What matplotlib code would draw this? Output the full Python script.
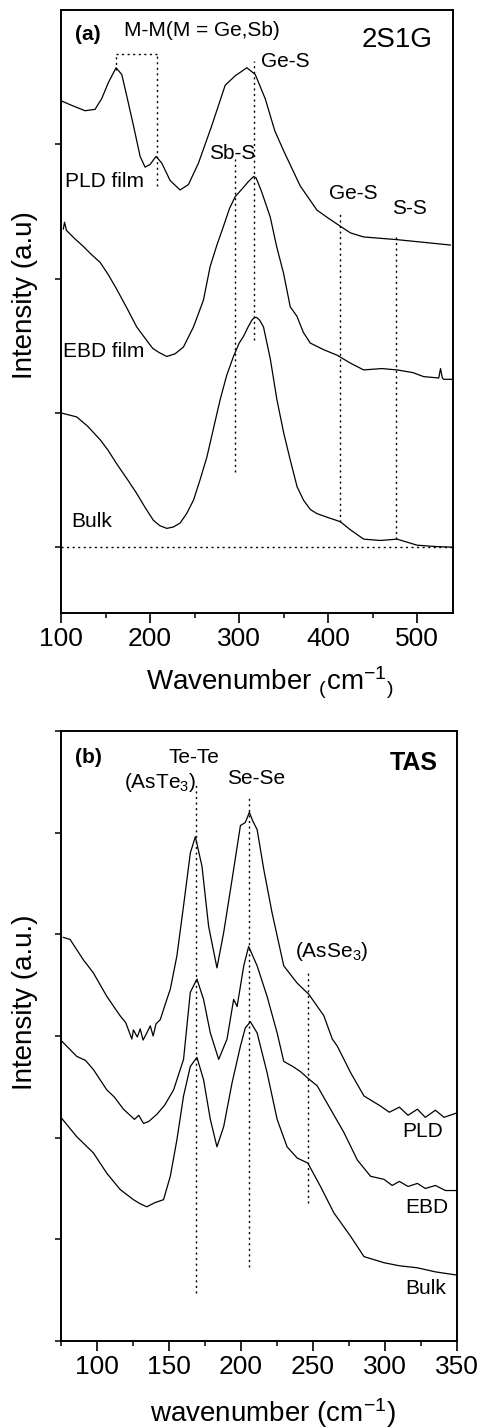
import matplotlib
matplotlib.use("Agg")
import matplotlib.pyplot as plt
from matplotlib.ticker import MultipleLocator

plt.rcParams['font.family'] = ['Liberation Sans', 'DejaVu Sans']
plt.rcParams['mathtext.default'] = 'regular'

# ---------------- Panel (a): 2S1G ----------------
a_pld_x = [101.5, 112, 127, 138.2, 145.7, 153.2, 161.8, 168.2, 173.8, 181.3, 188.8, 194.4,
           200, 206.7, 213.1, 222.5, 233.7, 243, 254.3, 269.3, 284.3, 295.5, 308.6, 318,
           329.2, 340, 350, 368.5, 387.3, 400, 413.5, 425, 439.7, 477.2, 537]
a_pld_y = [3.32, 3.29, 3.25, 3.26, 3.34, 3.46, 3.57, 3.52, 3.36, 3.14, 2.91, 2.83,
           2.85, 2.91, 2.86, 2.73, 2.66, 2.70, 2.86, 3.14, 3.44, 3.51, 3.57, 3.52,
           3.34, 3.10, 2.95, 2.69, 2.51, 2.45, 2.39, 2.34, 2.31, 2.29, 2.25]

a_ebd_x = [102.6, 104, 106, 115, 125, 134, 144, 153, 162.6, 174, 185, 195, 203, 210,
           218.7, 228, 237.4, 248.7, 259.9, 267.4, 275, 282.4, 289, 295.5, 304.9, 310,
           316.1, 319, 325, 334.8, 342, 349.8, 357.3, 364.8, 372, 379.8, 395, 409.8,
           425, 439.7, 460, 477.2, 495, 507.1, 524, 526, 528, 529.6, 540.4]
a_ebd_y = [2.37, 2.42, 2.36, 2.30, 2.24, 2.18, 2.12, 2.03, 1.92, 1.78, 1.64, 1.55, 1.48,
           1.45, 1.42, 1.44, 1.49, 1.64, 1.84, 2.09, 2.25, 2.39, 2.52, 2.61, 2.68, 2.72,
           2.76, 2.75, 2.65, 2.46, 2.24, 2.04, 1.79, 1.72, 1.60, 1.52, 1.47, 1.43,
           1.37, 1.32, 1.33, 1.32, 1.30, 1.27, 1.26, 1.33, 1.26, 1.25, 1.25]

a_bulk_x = [100, 117.6, 130, 144, 153, 162.6, 174, 185, 194, 203.7, 211, 218.7, 226, 233.7,
            241, 248.7, 256, 263.7, 271, 278.7, 286, 293.6, 300, 304.9, 310, 314.2, 317,
            319.8, 323, 327.3, 335, 342.3, 350, 357.3, 365, 372.2, 380, 387.3, 400, 413.5,
            424.7, 439.7, 458.4, 477.2, 499.7, 520, 540]
a_bulk_y = [1.0, 0.97, 0.90, 0.80, 0.72, 0.62, 0.51, 0.40, 0.30, 0.20, 0.16, 0.14, 0.15,
            0.18, 0.25, 0.35, 0.50, 0.67, 0.88, 1.10, 1.28, 1.42, 1.52, 1.57, 1.64, 1.69,
            1.71, 1.71, 1.69, 1.64, 1.40, 1.10, 0.85, 0.65, 0.45, 0.35, 0.28, 0.25, 0.22,
            0.19, 0.13, 0.06, 0.05, 0.06, 0.015, 0.005, 0.0]

# guide lines (x, y_top, y_bottom)
a_vlines_x = [161.4, 208.2, 316.9, 295.5, 412.7, 476.0]
a_vlines_top = [3.67, 3.67, 3.62, 2.89, 2.49, 2.31]
a_vlines_bot = [3.55, 2.69, 1.54, 0.56, 0.19, 0.06]

# ---------------- Panel (b): TAS ----------------
b_pld_x = [76.6, 81.3, 90.5, 97.5, 106.8, 116, 120, 124.2, 125.3, 128, 130, 132, 134.6,
           137, 139, 141, 143.9, 148.5, 150.9, 155.5, 160.1, 164.8, 168.3, 172.9, 177.5,
           183.3, 188, 193.8, 199.6, 203, 205.8, 208, 211.2, 215.8, 221.6, 229.7, 239,
           247.1, 257.5, 263.4, 266.9, 276.1, 285.4, 297, 303, 310, 316, 322.5, 328, 335,
           341, 349.2]
b_pld_y = [3.97, 3.95, 3.75, 3.62, 3.39, 3.20, 3.13, 2.97, 3.06, 2.99, 3.07, 2.96, 3.03,
           3.10, 3.00, 3.12, 3.16, 3.36, 3.46, 3.79, 4.28, 4.80, 4.96, 4.67, 4.08,
           3.67, 4.02, 4.54, 5.07, 5.10, 5.20, 5.12, 5.03, 4.64, 4.21, 3.69, 3.52,
           3.41, 3.20, 2.97, 2.90, 2.64, 2.41, 2.31, 2.25, 2.30, 2.22, 2.28, 2.20, 2.27,
           2.20, 2.24]

b_ebd_x = [75.5, 85.9, 92, 97.5, 106.8, 112, 118.4, 126, 129, 132.3, 136, 141.6, 147,
           153.2, 160.1, 164.8, 169.4, 174, 178.7, 184.5, 190.3, 194.9, 197.3, 201.9,
           205.3, 211.2, 218.1, 225.1, 229.7, 236, 241.3, 246, 252.9, 262.2, 271.5, 280.8,
           290, 299.3, 305, 310, 316, 322.5, 328, 335, 342, 349.2]
b_ebd_y = [2.95, 2.80, 2.76, 2.67, 2.47, 2.40, 2.28, 2.18, 2.22, 2.14, 2.16, 2.23, 2.32,
           2.47, 2.77, 3.43, 3.56, 3.36, 3.03, 2.77, 2.97, 3.36, 3.29, 3.69,
           3.88, 3.69, 3.39, 3.03, 2.75, 2.70, 2.65, 2.59, 2.51, 2.28, 2.05, 1.78,
           1.62, 1.59, 1.53, 1.57, 1.52, 1.55, 1.50, 1.53, 1.48, 1.48]

b_bulk_x = [75.5, 85.9, 97.5, 106.8, 116.1, 125.3, 130, 134.6, 140, 146.2, 150.9, 155.5,
            160.1, 164.8, 169.4, 174, 178.7, 183.3, 188, 193.8, 199.6, 203, 206.5, 211.2,
            218.1, 225.1, 232, 239, 246.4, 255.2, 264.5, 276.1, 285.4, 299.3, 310, 322.5,
            335, 349.2]
b_bulk_y = [2.19, 2.01, 1.85, 1.65, 1.49, 1.39, 1.35, 1.32, 1.36, 1.39, 1.62, 1.98,
            2.41, 2.70, 2.79, 2.57, 2.18, 1.91, 2.11, 2.54, 2.90, 3.08, 3.14, 3.03,
            2.64, 2.18, 1.91, 1.80, 1.75, 1.52, 1.26, 1.03, 0.83, 0.77, 0.74, 0.72,
            0.68, 0.65]

b_vlines_x = [168.7, 205.8, 246.4]
b_vlines_top = [5.50, 5.36, 3.63]
b_vlines_bot = [0.47, 0.73, 1.36]

a_xticks = [100, 200, 300, 400, 500]
b_xticks = [100, 150, 200, 250, 300, 350]

W, H = 483, 1428
fig = plt.figure(figsize=(W / 100, H / 100), dpi=100)

def px_axes(l, t, r, b):
    return fig.add_axes([l / W, 1 - b / H, (r - l) / W, (b - t) / H])

axa = px_axes(61, 10, 453, 613)
axb = px_axes(61, 731, 457, 1341)

lw_curve = 0.9
dot = (0, (1.5, 2.5))
for ax in (axa, axb):
    for s in ax.spines.values():
        s.set_linewidth(1.4)
    ax.tick_params(axis='x', which='major', direction='out', length=7, width=1.2,
                   labelsize=19, pad=3)
    ax.tick_params(axis='x', which='minor', direction='out', length=3.5, width=1.1)
    ax.tick_params(axis='y', which='major', direction='out', length=4.5, width=1.1,
                   labelleft=False)

# panel a
axa.plot(a_pld_x, a_pld_y, color='black', lw=lw_curve)
axa.plot(a_ebd_x, a_ebd_y, color='black', lw=lw_curve)
axa.plot(a_bulk_x, a_bulk_y, color='black', lw=lw_curve)
for x, yt, yb in zip(a_vlines_x, a_vlines_top, a_vlines_bot):
    axa.plot([x, x], [yb, yt], color='black', lw=1.0, ls=dot)
axa.plot([a_vlines_x[0], a_vlines_x[1]], [a_vlines_top[0], a_vlines_top[1]],
         color='black', lw=1.0, ls=dot)
axa.axhline(0, color='black', lw=1.0, ls=dot)
axa.set_xlim(100, 540)
axa.set_ylim(-0.49, 4.0)
axa.set_xticks(a_xticks)
axa.xaxis.set_minor_locator(MultipleLocator(50))
axa.set_yticks([0, 1, 2, 3])

fs = 15
axa.text(115.7, 3.82, '(a)', fontsize=15, fontweight='bold', va='center')
axa.text(170.8, 3.85, 'M-M(M = Ge,Sb)', fontsize=fs, va='center')
axa.text(437, 3.78, '2S1G', fontsize=20, va='center')
axa.text(324.7, 3.62, 'Ge-S', fontsize=fs, va='center')
axa.text(266.3, 2.93, 'Sb-S', fontsize=fs, va='center')
axa.text(104.5, 2.72, 'PLD film', fontsize=fs, va='center')
axa.text(401, 2.63, 'Ge-S', fontsize=fs, va='center')
axa.text(471.6, 2.52, 'S-S', fontsize=fs, va='center')
axa.text(102.2, 1.46, 'EBD film', fontsize=fs, va='center')
axa.text(111.2, 0.19, 'Bulk', fontsize=fs, va='center')

fig.text(25 / W, 1 - 295 / H, 'Intensity (a.u)', rotation=90, fontsize=20,
         ha='center', va='center')
fig.text(270 / W, 1 - 683 / H, r'Wavenumber $_{(}$cm$^{-1}$$_{)}$', fontsize=20,
         ha='center', va='center')

# panel b
axb.plot(b_pld_x, b_pld_y, color='black', lw=lw_curve)
axb.plot(b_ebd_x, b_ebd_y, color='black', lw=lw_curve)
axb.plot(b_bulk_x, b_bulk_y, color='black', lw=lw_curve)
for x, yt, yb in zip(b_vlines_x, b_vlines_top, b_vlines_bot):
    axb.plot([x, x], [yb, yt], color='black', lw=1.0, ls=dot)
axb.set_xlim(75, 350)
axb.set_ylim(0, 6)
axb.set_xticks(b_xticks)
axb.xaxis.set_minor_locator(MultipleLocator(25))
axb.set_yticks([0, 1, 2, 3, 4, 5, 6])

axb.text(84.7, 5.74, '(b)', fontsize=15, fontweight='bold', va='center')
axb.text(303, 5.69, 'TAS', fontsize=18, fontweight='bold', va='center')
axb.text(149.5, 5.74, 'Te-Te', fontsize=fs, va='center')
axb.text(118.5, 5.44, r'(AsTe$_3$)', fontsize=fs, va='baseline')
axb.text(190.5, 5.53, 'Se-Se', fontsize=fs, va='center')
axb.text(237.8, 3.78, r'(AsSe$_3$)', fontsize=fs, va='baseline')
axb.text(312, 2.06, 'PLD', fontsize=fs, va='center')
axb.text(314, 1.31, 'EBD', fontsize=fs, va='center')
axb.text(314, 0.52, 'Bulk', fontsize=fs, va='center')

fig.text(25 / W, 1 - 1002 / H, 'Intensity (a.u.)', rotation=90, fontsize=20,
         ha='center', va='center')
fig.text(273 / W, 1 - 1413 / H, r'wavenumber (cm$^{-1}$)', fontsize=20,
         ha='center', va='center')

fig.savefig('out.png', dpi=100)
